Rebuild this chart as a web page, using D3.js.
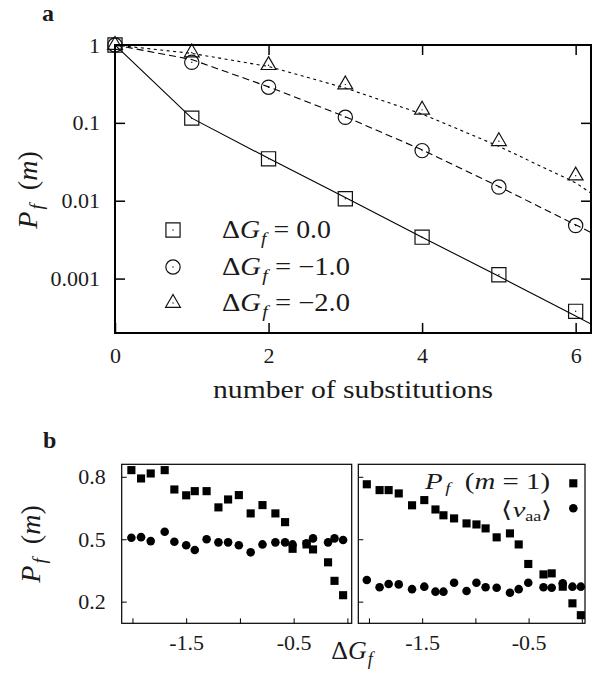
<!DOCTYPE html>
<html>
<head>
<meta charset="utf-8">
<script src="https://cdn.jsdelivr.net/npm/d3@7"></script>
<style>
    body { margin: 0; background: #fff; }
    text { font-family: "Liberation Serif", "DejaVu Serif", serif; fill: #1a1a1a; }
</style>
</head>
<body>
<div id="chart"></div>
<script>
// ---- panel a data: survival probability vs number of substitutions
const substitutions = [0, 1, 2, 3, 4, 5, 6];
const pfDG0 = [1, 0.115, 0.0345, 0.0106, 0.0034, 0.00112, 0.00038];
const pfDG1 = [1, 0.6, 0.287, 0.118, 0.044, 0.015, 0.0048];
const pfDG2 = [1, 0.8, 0.55, 0.31, 0.147, 0.058, 0.021];

// fitted curves
const fitM = [0, 1, 2, 3, 4, 5, 6, 6.2];
const fitDG0 = [1, 0.115, 0.035, 0.011, 0.0034, 0.00107, 0.00033, 0.00026];
const fitDG1 = [1, 0.65, 0.29, 0.12, 0.045, 0.0152, 0.0049, 0.0039];
const fitDG2 = [1, 0.78, 0.53, 0.28, 0.13, 0.05, 0.017, 0.0125];

const xTicksA = [0, 2, 4, 6];
const yTicksA = [1, 0.1, 0.01, 0.001];
const legendA = ["0.0", "\u22121.0", "\u22122.0"];

// ---- panel b data
const dgLeft = [-2.01, -1.92, -1.83, -1.70, -1.61, -1.50, -1.42, -1.31, -1.20, -1.11, -1.01,
    -0.90, -0.79, -0.67, -0.58, -0.51, -0.38, -0.32, -0.18, -0.12, -0.04];
const pf1Left = [0.832, 0.792, 0.816, 0.832, 0.739, 0.711, 0.731, 0.731, 0.653, 0.691, 0.712,
    0.624, 0.664, 0.624, 0.582, 0.454, 0.475, 0.451, 0.389, 0.30, 0.231];
const nuLeft = [0.507, 0.51, 0.491, 0.536, 0.488, 0.471, 0.448, 0.50, 0.485, 0.485, 0.471,
    0.437, 0.475, 0.485, 0.485, 0.475, 0.48, 0.504, 0.485, 0.504, 0.496];

const dgRight = [-2.02, -1.90, -1.815, -1.72, -1.595, -1.48, -1.375, -1.30, -1.20, -1.083, -0.99,
    -0.904, -0.80, -0.675, -0.593, -0.503, -0.36, -0.283, -0.179, -0.088, -0.009];
const pf1Right = [0.764, 0.736, 0.736, 0.72, 0.663, 0.688, 0.643, 0.615, 0.60, 0.576, 0.571,
    0.552, 0.509, 0.528, 0.475, 0.381, 0.331, 0.336, 0.272, 0.192, 0.135];
const nuRight = [0.304, 0.269, 0.285, 0.283, 0.26, 0.272, 0.248, 0.248, 0.291, 0.251, 0.291,
    0.269, 0.267, 0.243, 0.26, 0.291, 0.269, 0.267, 0.288, 0.272, 0.272];

const xTicksB = [-2, -1.5, -1, -0.5, 0];
const yTicksB = [0.8, 0.5, 0.2];

let width = 595;
let height = 677;
let serif = '"Liberation Serif", "Times New Roman", serif';

let svg = d3.select("#chart").append("svg")
    .attr("width", width)
    .attr("height", height);

function styleAxis(g, size) {
    g.select(".domain").remove();
    g.attr("font-family", null);
    g.selectAll("text").style("font-size", size + "px").style("font-family", serif);
    g.selectAll("line").attr("stroke", "#000");
}

// P_f (m) label, rotated
function pfLabel(g, x, y, size) {
    let t = g.append("text")
        .attr("transform", `translate(${x},${y}) rotate(-90)`)
        .attr("text-anchor", "middle")
        .style("font-size", size + "px");
    t.append("tspan").style("font-style", "italic").text("P");
    t.append("tspan").style("font-style", "italic").style("font-size", (size * 0.7) + "px")
        .attr("dx", 2).attr("dy", size * 0.22).text("f");
    t.append("tspan").attr("dy", -size * 0.22).text("\u2002(");
    t.append("tspan").style("font-style", "italic").text("m");
    t.append("tspan").text(")");
    return t;
}

// Delta G_f text
function dgText(t, size) {
    t.append("tspan").text("\u0394");
    t.append("tspan").style("font-style", "italic").text("G");
    t.append("tspan").style("font-style", "italic").style("font-size", (size * 0.7) + "px")
        .attr("dx", 1).attr("dy", size * 0.22).text("f");
    return t;
}

// ================= panel a =================
let ax = d3.scaleLinear().domain([0, 6.2]).range([115, 591]);
let ay = d3.scaleLog().domain([0.0002, 1]).range([333, 45]);

let gA = svg.append("g");

gA.append("text").attr("x", 42).attr("y", 21)
    .style("font-size", "24px").style("font-weight", "bold").text("a");

gA.append("clipPath").attr("id", "clipA")
    .append("rect").attr("x", 115).attr("y", 45).attr("width", 476).attr("height", 288);

gA.append("g").attr("transform", "translate(0,333)")
    .call(d3.axisBottom(ax).tickValues(xTicksA).tickSize(-10).tickPadding(14).tickFormat(d3.format("d")))
    .call(styleAxis, 22);
gA.append("g").attr("transform", "translate(0,45)")
    .call(d3.axisTop(ax).tickValues(xTicksA.slice(1)).tickSize(-10).tickFormat(""))
    .call(styleAxis, 22);
gA.append("g").attr("transform", "translate(115,0)")
    .call(d3.axisLeft(ay).tickValues(yTicksA).tickSize(-10).tickPadding(15).tickFormat((d) => String(d)))
    .call(styleAxis, 22);
gA.append("g").attr("transform", "translate(591,0)")
    .call(d3.axisRight(ay).tickValues(yTicksA.slice(1)).tickSize(-10).tickFormat(""))
    .call(styleAxis, 22);

gA.selectAll(".tick line").attr("stroke-width", 1.5);

// fitted lines
let lineA = d3.line().x((d) => ax(d.m)).y((d) => ay(d.v));
let fits = [
    { v: fitDG0, dash: null },
    { v: fitDG1, dash: "7,4" },
    { v: fitDG2, dash: "3,3.5" },
];
gA.append("g").attr("clip-path", "url(#clipA)")
    .selectAll("path")
    .data(fits)
    .join("path")
    .attr("d", (f) => lineA(fitM.map((m, i) => ({ m: m, v: f.v[i] }))))
    .attr("fill", "none")
    .attr("stroke", "#000")
    .attr("stroke-width", 1.1)
    .attr("stroke-dasharray", (f) => f.dash);

// markers
let symSquare = d3.symbol().type(d3.symbolSquare).size(200);
let symCircle = d3.symbol().type(d3.symbolCircle).size(160);
let symTriangle = d3.symbol().type(d3.symbolTriangle).size(95);
let seriesA = [
    { v: pfDG0, sym: symSquare },
    { v: pfDG1, sym: symCircle },
    { v: pfDG2, sym: symTriangle },
];

function openMarker(g, sym, x, y) {
    g.append("path").attr("d", sym())
        .attr("transform", `translate(${x},${y})`)
        .attr("fill", "none").attr("stroke", "#111").attr("stroke-width", 1.2);
    g.append("circle").attr("cx", x).attr("cy", y).attr("r", 0.7).attr("fill", "#111");
}

let markersA = gA.append("g");
seriesA.forEach((s) => {
    substitutions.forEach((m, i) => openMarker(markersA, s.sym, ax(m), ay(s.v[i])));
});

// frame
gA.append("rect").attr("x", 115).attr("y", 45).attr("width", 476).attr("height", 288)
    .attr("fill", "none").attr("stroke", "#000").attr("stroke-width", 2);

// legend
let legRows = [230, 267, 303];
seriesA.forEach((s, i) => {
    openMarker(gA, s.sym, 173, legRows[i]);
    let t = gA.append("text").attr("x", 222).attr("y", legRows[i] + 8)
        .style("font-size", "25px")
        .attr("textLength", i === 0 ? 109 : 128)
        .attr("lengthAdjust", "spacingAndGlyphs");
    dgText(t, 25);
    t.append("tspan").attr("dy", -25 * 0.22).text(" = " + legendA[i]);
});

// axis labels
pfLabel(gA, 37, 190, 28);
gA.append("text").attr("x", 353).attr("y", 398)
    .attr("text-anchor", "middle")
    .style("font-size", "26px")
    .attr("textLength", 280).attr("lengthAdjust", "spacingAndGlyphs")
    .text("number of substitutions");

// ================= panel b =================
let by = d3.scaleLinear().domain([0.096, 0.86]).range([623.3, 464.3]);
let panelsB = [
    { x0: 121.7, x1: 351.7, dom: [-2.1, 0.04], dg: dgLeft, pf: pf1Left, nu: nuLeft, labels: true },
    { x0: 358.3, x1: 585, dom: [-2.1, 0.03], dg: dgRight, pf: pf1Right, nu: nuRight, labels: false },
];

let gB = svg.append("g");
gB.append("text").attr("x", 43).attr("y", 448)
    .style("font-size", "24px").style("font-weight", "bold").text("b");

let fillSquare = d3.symbol().type(d3.symbolSquare).size(66);

panelsB.forEach((p) => {
    let bx = d3.scaleLinear().domain(p.dom).range([p.x0, p.x1]);
    let g = gB.append("g");

    g.append("g").attr("transform", "translate(0,623.3)")
        .call(d3.axisBottom(bx).tickValues(xTicksB).tickSize(-5).tickPadding(11)
            .tickFormat((d) => (d === -1.5 || d === -0.5 ? String(d) : "")))
        .call(styleAxis, 22);
    g.append("g").attr("transform", `translate(${p.x0},0)`)
        .call(d3.axisLeft(by).tickValues(yTicksB).tickSize(-5).tickPadding(16)
            .tickFormat(p.labels ? d3.format(".1f") : ""))
        .call(styleAxis, 22);

    g.selectAll(".tick line").attr("stroke-width", 1);

    g.append("g").selectAll("circle")
        .data(p.dg.map((d, i) => ({ dg: d, v: p.nu[i] })))
        .join("circle")
        .attr("cx", (d) => bx(d.dg))
        .attr("cy", (d) => by(d.v))
        .attr("r", 4.3)
        .attr("fill", "#000");

    g.append("g").selectAll("path")
        .data(p.dg.map((d, i) => ({ dg: d, v: p.pf[i] })))
        .join("path")
        .attr("d", fillSquare)
        .attr("transform", (d) => `translate(${bx(d.dg)},${by(d.v)})`)
        .attr("fill", "#000");

    g.append("rect").attr("x", p.x0).attr("y", 464.3)
        .attr("width", p.x1 - p.x0).attr("height", 623.3 - 464.3)
        .attr("fill", "none").attr("stroke", "#000").attr("stroke-width", 1.2);
});

// legend in right subplot
let lt1 = gB.append("text").attr("x", 550).attr("y", 489)
    .attr("text-anchor", "end").style("font-size", "23px")
    .attr("textLength", 125).attr("lengthAdjust", "spacingAndGlyphs");
lt1.append("tspan").style("font-style", "italic").text("P");
lt1.append("tspan").style("font-style", "italic").style("font-size", "15px")
    .attr("dx", 2).attr("dy", 4).text("f");
lt1.append("tspan").attr("dy", -4).text("\u2002(");
lt1.append("tspan").style("font-style", "italic").text("m");
lt1.append("tspan").text(" = 1)");

let lt2 = gB.append("text").attr("x", 553).attr("y", 517)
    .attr("text-anchor", "end").style("font-size", "22px")
    .attr("textLength", 52).attr("lengthAdjust", "spacingAndGlyphs");
lt2.append("tspan").text("\u27E8");
lt2.append("tspan").style("font-style", "italic").text("\u03BD");
lt2.append("tspan").style("font-size", "14px").attr("dy", 4).text("aa");
lt2.append("tspan").attr("dy", -4).text("\u27E9");

gB.append("path").attr("d", fillSquare)
    .attr("transform", "translate(573.3,483.3)").attr("fill", "#000");
gB.append("circle").attr("cx", 573.3).attr("cy", 508.3).attr("r", 4.3).attr("fill", "#000");

// axis labels
pfLabel(gB, 40, 544, 28);
let xl = gB.append("text").attr("x", 352).attr("y", 659)
    .attr("text-anchor", "middle").style("font-size", "26px");
dgText(xl, 26);

// make sure every label uses the serif face
svg.selectAll("text").style("font-family", serif);
</script>
</body>
</html>
